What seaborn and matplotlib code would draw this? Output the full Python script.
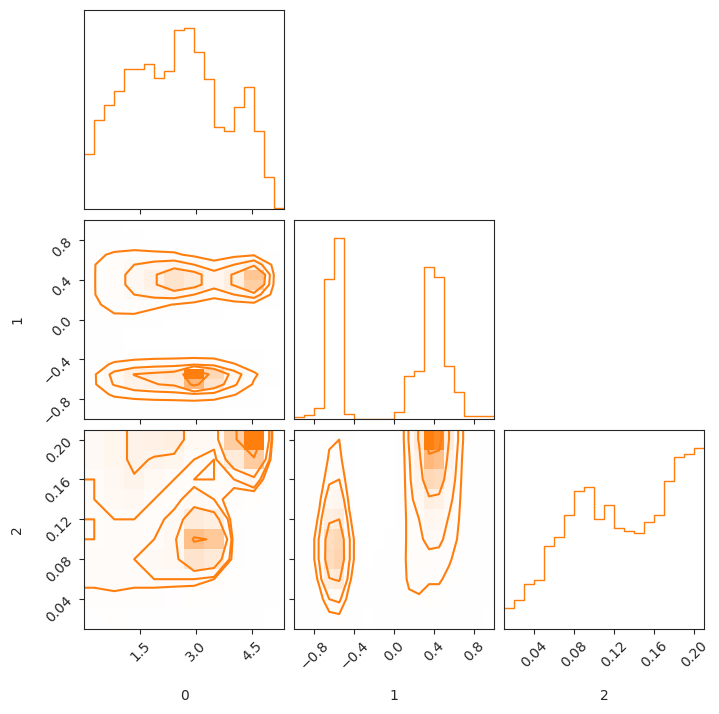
import numpy as np
import pandas as pd
import seaborn as sns
import matplotlib.pyplot as plt
from matplotlib.colors import LinearSegmentedColormap

sns.set_style("ticks")
plt.rcParams["font.family"] = ["DejaVu Sans"]

color = "#ff7f0e"
labels = ["0", "1", "2"]
ranges = [(0.0, 5.35), (-1.0, 1.0), (0.01, 0.21)]
ticks = [[1.5, 3.0, 4.5], [-0.8, -0.4, 0.0, 0.4, 0.8], [0.04, 0.08, 0.12, 0.16, 0.20]]

# 1D marginal histograms, 20 bins over each range
hist0 = [165, 267, 313, 354, 420, 420, 435, 394, 414, 538, 543, 471, 391, 246, 235, 306, 367, 235, 96, 4]
hist1 = [6, 12, 35, 421, 543, 15, 1, 1, 1, 1, 22, 129, 145, 456, 427, 159, 82, 10, 10, 10]
hist2 = [64, 88, 136, 146, 249, 277, 343, 414, 427, 330, 373, 304, 295, 289, 321, 341, 444, 516, 526, 544]

# 2D densities, rows listed from the top of each panel down
# panel (1, 0): 10 cells in param 0, 20 cells in param 1
dens_10 = [
    [2, 1, 0, 0, 0, 0, 0, 0, 0, 0],
    [2, 1, 1, 0, 0, 0, 0, 0, 0, 0],
    [3, 4, 4, 3, 3, 2, 1, 1, 1, 0],
    [6, 10, 12, 11, 10, 6, 3, 5, 7, 2],
    [8, 14, 20, 24, 27, 20, 12, 20, 30, 5],
    [8, 15, 24, 32, 45, 39, 25, 35, 67, 8],
    [8, 15, 24, 32, 45, 39, 25, 35, 62, 7],
    [8, 14, 20, 24, 27, 20, 12, 20, 28, 4],
    [7, 11, 13, 11, 8, 5, 2, 3, 4, 1],
    [5, 8, 8, 5, 3, 2, 1, 0, 0, 0],
    [3, 2, 1, 1, 0, 0, 0, 0, 0, 0],
    [2, 1, 0, 0, 0, 0, 0, 0, 0, 0],
    [2, 1, 0, 0, 0, 0, 0, 0, 0, 0],
    [3, 3, 3, 3, 3, 3, 3, 2, 1, 0],
    [4, 10, 13, 15, 16, 18, 16, 9, 3, 0],
    [7, 24, 34, 37, 40, 100, 55, 26, 10, 1],
    [7, 21, 30, 33, 36, 74, 45, 22, 7, 1],
    [4, 10, 13, 15, 16, 18, 16, 9, 3, 0],
    [3, 3, 3, 3, 3, 3, 2, 1, 1, 0],
    [2, 1, 1, 1, 1, 1, 1, 0, 0, 0],
]
# panel (2, 0): 10 cells in param 0, 10 cells in param 2
dens_20 = [
    [20, 26, 30, 32, 35, 22, 20, 62, 100, 6],
    [20, 26, 30, 28, 26, 17, 14, 39, 63, 4],
    [17, 24, 28, 22, 17, 14, 14, 17, 24, 2],
    [17, 22, 24, 17, 14, 22, 17, 10, 7, 2],
    [14, 17, 17, 14, 20, 39, 35, 9, 5, 1],
    [14, 17, 17, 17, 24, 70, 65, 10, 4, 1],
    [17, 17, 17, 20, 24, 45, 40, 10, 4, 1],
    [17, 17, 17, 17, 17, 17, 14, 7, 3, 1],
    [10, 12, 10, 10, 9, 8, 7, 4, 2, 1],
    [5, 7, 5, 5, 4, 4, 3, 2, 1, 0],
]
# panel (2, 1): 20 cells in param 1, 10 cells in param 2
dens_21 = [
    [1, 1, 3, 9, 10, 3, 0, 0, 0, 0, 3, 18, 40, 100, 95, 38, 15, 3, 1, 1],
    [1, 1, 4, 11, 12, 4, 0, 0, 0, 0, 3, 16, 32, 74, 70, 30, 13, 3, 1, 1],
    [1, 1, 5, 15, 17, 5, 0, 0, 0, 0, 3, 15, 28, 55, 52, 25, 12, 3, 1, 1],
    [1, 1, 8, 23, 25, 8, 0, 0, 0, 0, 3, 14, 22, 35, 33, 20, 11, 3, 1, 1],
    [1, 1, 12, 35, 38, 12, 0, 0, 0, 0, 3, 13, 17, 25, 24, 16, 10, 3, 1, 1],
    [1, 2, 18, 50, 55, 18, 1, 0, 0, 1, 3, 13, 15, 20, 19, 14, 9, 3, 1, 1],
    [1, 2, 18, 52, 57, 18, 1, 0, 1, 1, 4, 13, 14, 14, 14, 11, 7, 2, 1, 1],
    [1, 2, 12, 37, 40, 12, 1, 1, 1, 1, 4, 12, 13, 11, 11, 8, 5, 2, 1, 1],
    [1, 1, 6, 17, 19, 6, 1, 1, 1, 1, 3, 8, 9, 7, 7, 4, 3, 2, 1, 1],
    [1, 1, 2, 6, 7, 2, 1, 0, 1, 1, 2, 3, 4, 3, 3, 2, 1, 1, 1, 0],
]

hists = [hist0, hist1, hist2]
dens = {(1, 0): dens_10, (2, 0): dens_20, (2, 1): dens_21}

mass = 1 - np.exp(-0.5 * np.array([0.5, 1.0, 1.5, 2.0]) ** 2)
density_cmap = LinearSegmentedColormap.from_list("density", [(1, 1, 1, 0), color])


def centers_of(k, n):
    e = np.linspace(ranges[k][0], ranges[k][1], n + 1)
    return (e[:-1] + e[1:]) / 2


def contour_levels(h):
    flat = np.sort(h.ravel())[::-1]
    cum = np.cumsum(flat) / flat.sum()
    v = np.interp(mass, cum, flat)
    return np.sort(v)


def pad(c):
    d = c[1] - c[0]
    return np.concatenate([c[0] - d * np.array([2, 1]), c, c[-1] + d * np.array([1, 2])])


fig, axes = plt.subplots(3, 3, figsize=(7.19, 7.14), dpi=100)
fig.subplots_adjust(left=0.1172, right=0.9791, bottom=0.119, top=0.986,
                    wspace=0.052, hspace=0.052)

for i in range(3):
    for j in range(3):
        ax = axes[i, j]
        if j > i:
            ax.set_frame_on(False)
            ax.set_xticks([])
            ax.set_yticks([])
            continue
        if i == j:
            n = len(hists[i])
            df = pd.DataFrame({"x": centers_of(i, n), "w": hists[i]})
            sns.histplot(df, x="x", weights="w", bins=n, binrange=ranges[i],
                         element="step", fill=False, color=color, linewidth=1.0, ax=ax)
            ax.set_ylim(0, 1.1 * max(hists[i]))
            ax.set_yticks([])
        else:
            h = np.array(dens[(i, j)], dtype=float)[::-1]
            xc = centers_of(j, h.shape[1])
            yc = centers_of(i, h.shape[0])
            X, Y = np.meshgrid(xc, yc)
            df = pd.DataFrame({"x": X.ravel(), "y": Y.ravel(), "w": h.ravel()})
            sns.histplot(df, x="x", y="y", weights="w", bins=(h.shape[1], h.shape[0]),
                         binrange=(ranges[j], ranges[i]), cmap=density_cmap, vmin=0, ax=ax)
            hp = np.pad(np.pad(h, 1, mode="edge"), 1)
            ax.contour(pad(xc), pad(yc), hp, levels=contour_levels(h),
                       colors=color, linewidths=1.5)
            ax.set_ylim(ranges[i])
            ax.set_yticks(ticks[i])
        ax.set_xlim(ranges[j])
        ax.set_xticks(ticks[j])
        ax.set_xlabel("")
        ax.set_ylabel("")
        if i < 2:
            ax.set_xticklabels([])
        else:
            for t in ax.get_xticklabels():
                t.set_rotation(45)
            ax.set_xlabel(labels[j])
            ax.xaxis.set_label_coords(0.5, -0.3)
        if i != j:
            if j > 0:
                ax.set_yticklabels([])
            else:
                for t in ax.get_yticklabels():
                    t.set_rotation(45)
                ax.set_ylabel(labels[i])
                ax.yaxis.set_label_coords(-0.3, 0.5)

fig.savefig("out.png", dpi=100)
